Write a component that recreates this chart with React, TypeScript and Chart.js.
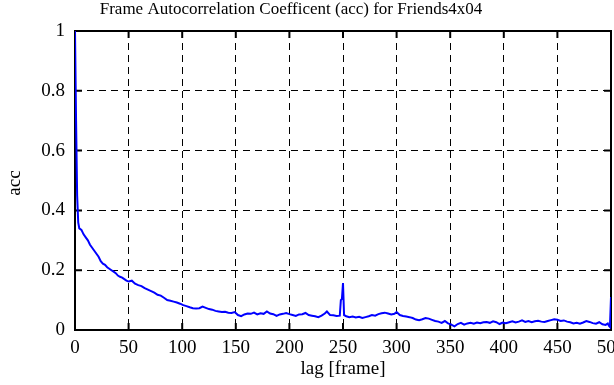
import React, { useEffect, useRef } from "react";
import { Chart, registerables } from "chart.js";

Chart.register(...registerables);

const TITLE = "Frame Autocorrelation Coefficent (acc) for Friends4x04";
const X_LABEL = "lag [frame]";
const Y_LABEL = "acc";

const lags = [
  0, 1, 2, 3, 4, 6, 8, 10, 12, 14, 16, 18, 20, 22, 24, 26, 28, 30, 32, 34, 36, 38, 40, 42, 44, 46, 48, 50,
  53, 56, 59, 62, 65, 68, 71, 74, 77, 80, 83, 86, 89, 92, 95, 98, 101, 104, 107, 110, 113, 116, 119, 122,
  125, 128, 131, 134, 137, 140, 143, 146, 149, 152, 155, 158, 161, 164, 167, 170, 173, 176, 179, 182, 185,
  188, 191, 194, 197, 200, 203, 206, 209, 212, 215, 218, 221, 224, 227, 230, 233, 235, 238, 241, 244, 247,
  248, 249, 250, 251, 253, 256, 259, 262, 265, 268, 271, 274, 277, 280, 283, 286, 289, 292, 295, 298, 300,
  303, 306, 309, 312, 315, 318, 321, 324, 327, 330, 333, 336, 339, 342, 345, 348, 351, 354, 357, 360, 363,
  366, 369, 372, 375, 378, 381, 384, 387, 390, 393, 396, 399, 402, 405, 408, 411, 414, 417, 420, 423, 426,
  429, 432, 435, 438, 441, 444, 447, 450, 453, 456, 459, 462, 465, 468, 471, 474, 477, 480, 483, 486, 489,
  492, 495, 497, 498, 499, 500,
];

const acc = [
  1.0, 0.7, 0.45, 0.36, 0.34, 0.335, 0.32, 0.31, 0.3, 0.285, 0.275, 0.265, 0.255, 0.245, 0.23, 0.222, 0.218,
  0.21, 0.205, 0.2, 0.195, 0.19, 0.182, 0.178, 0.175, 0.17, 0.165, 0.162,
  0.165, 0.155, 0.15, 0.147, 0.14, 0.135, 0.13, 0.125, 0.118, 0.115, 0.108, 0.1, 0.098, 0.095, 0.092, 0.088,
  0.083, 0.08, 0.076, 0.073, 0.072, 0.073, 0.078, 0.074,
  0.07, 0.068, 0.064, 0.062, 0.06, 0.061, 0.058, 0.057, 0.06, 0.05, 0.046, 0.052, 0.055, 0.054, 0.058, 0.052,
  0.056, 0.054, 0.062, 0.055, 0.053,
  0.047, 0.052, 0.054, 0.057, 0.053, 0.05, 0.047, 0.052, 0.053, 0.057, 0.05, 0.048, 0.046, 0.043, 0.048,
  0.055, 0.062, 0.05, 0.049, 0.047, 0.048,
  0.1, 0.104, 0.157, 0.05, 0.046, 0.043, 0.045, 0.042, 0.044, 0.04, 0.043, 0.046, 0.05, 0.048, 0.053, 0.056,
  0.058, 0.055, 0.052, 0.054, 0.06,
  0.05, 0.047, 0.045, 0.043, 0.04, 0.035, 0.033, 0.036, 0.04, 0.038, 0.034, 0.03, 0.028, 0.024, 0.03, 0.022,
  0.018, 0.012, 0.02, 0.024, 0.018,
  0.022, 0.024, 0.021, 0.025, 0.023, 0.026, 0.027, 0.024, 0.029, 0.026, 0.02, 0.025, 0.023, 0.026, 0.029,
  0.025, 0.028, 0.032, 0.027, 0.03, 0.026,
  0.029, 0.031, 0.028, 0.027, 0.03, 0.033, 0.036, 0.034, 0.03, 0.032, 0.028, 0.026, 0.022, 0.024, 0.021,
  0.025, 0.03, 0.027, 0.023, 0.021, 0.026,
  0.019, 0.017, 0.022, 0.014, 0.01, 0.11,
];

const xTicks = [0, 50, 100, 150, 200, 250, 300, 350, 400, 450, 500];
const yTicks = [0, 0.2, 0.4, 0.6, 0.8, 1];

const FONT = "'Liberation Serif', 'DejaVu Serif', serif";

const framePlugin = {
  id: "gnuplotFrame",
  beforeDatasetsDraw(chart: any) {
    const { ctx, chartArea: a, scales } = chart;
    ctx.save();
    ctx.strokeStyle = "#000";
    ctx.lineWidth = 2;
    ctx.setLineDash([]);
    ctx.strokeRect(a.left, a.top, a.right - a.left, a.bottom - a.top);
    const t = 7;
    ctx.beginPath();
    for (const v of xTicks) {
      const x = scales.x.getPixelForValue(v);
      ctx.moveTo(x, a.bottom);
      ctx.lineTo(x, a.bottom - t);
      ctx.moveTo(x, a.top);
      ctx.lineTo(x, a.top + t);
    }
    for (const v of yTicks) {
      const y = scales.y.getPixelForValue(v);
      ctx.moveTo(a.left, y);
      ctx.lineTo(a.left + t, y);
      ctx.moveTo(a.right, y);
      ctx.lineTo(a.right - t, y);
    }
    ctx.stroke();
    ctx.restore();
  },
  afterDraw(chart: any) {
    const { ctx, chartArea: a } = chart;
    ctx.save();
    ctx.fillStyle = "#000";
    ctx.textAlign = "center";
    ctx.textBaseline = "alphabetic";
    ctx.font = `17px ${FONT}`;
    ctx.fillText(TITLE, 291, 14);
    ctx.font = `19px ${FONT}`;
    ctx.fillText(X_LABEL, (a.left + a.right) / 2, 374);
    ctx.translate(20, 183);
    ctx.rotate(-Math.PI / 2);
    ctx.fillText(Y_LABEL, 0, 0);
    ctx.restore();
  },
};

export default function App() {
  const ref = useRef<HTMLCanvasElement | null>(null);
  useEffect(() => {
    document.body.style.margin = "0";
    if (!ref.current) return;
    const points = lags.map((l, i) => ({ x: l, y: acc[i] }));
    const chart = new Chart(ref.current, {
      type: "line",
      data: {
        datasets: [
          {
            data: points,
            borderColor: "#0000ff",
            borderWidth: 2,
            pointRadius: 0,
            fill: false,
            tension: 0,
          },
        ],
      },
      options: {
        animation: false,
        responsive: false,
        maintainAspectRatio: false,
        layout: { padding: { top: 31, right: 3, left: 0, bottom: 0 } },
        plugins: { legend: { display: false }, tooltip: { enabled: false }, title: { display: false } },
        scales: {
          x: {
            type: "linear",
            min: 0,
            max: 500,
            afterBuildTicks: (s: any) => {
              s.ticks = xTicks.map((v) => ({ value: v }));
            },
            afterFit: (s: any) => {
              s.height = 55;
              s.paddingRight = 0;
              s.paddingLeft = 0;
            },
            ticks: { color: "#000", font: { family: FONT, size: 19 }, padding: 7, maxRotation: 0, autoSkip: false },
            grid: { color: "#000", lineWidth: 1, drawTicks: false },
            border: { display: false, dash: [7, 5] },
          },
          y: {
            type: "linear",
            min: 0,
            max: 1,
            afterBuildTicks: (s: any) => {
              s.ticks = yTicks.map((v) => ({ value: v }));
            },
            afterFit: (s: any) => {
              s.width = 75;
              s.paddingTop = 0;
              s.paddingBottom = 0;
            },
            ticks: {
              color: "#000",
              font: { family: FONT, size: 19 },
              padding: 10,
              callback: (v: any) => String(Math.round(Number(v) * 10) / 10),
            },
            grid: { color: "#000", lineWidth: 1, drawTicks: false },
            border: { display: false, dash: [7, 5] },
          },
        },
      },
      plugins: [framePlugin],
    });
    return () => chart.destroy();
  }, []);
  return (
    <div style={{ width: 614, height: 385 }}>
      <canvas ref={ref} width={614} height={385} style={{ display: "block" }} />
    </div>
  );
}
